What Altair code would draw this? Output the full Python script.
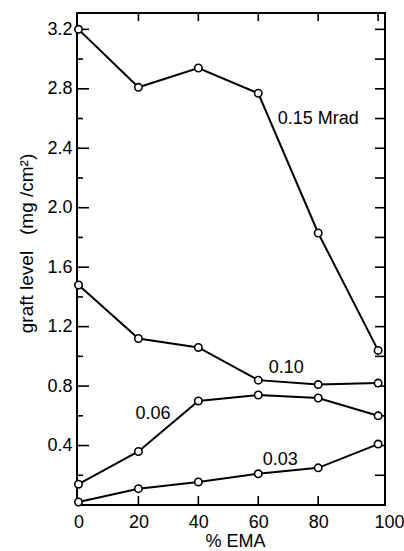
import altair as alt
import pandas as pd

# Graft level vs. EMA content for four radiation doses
ema = [0, 20, 40, 60, 80, 100]
dose_labels = ["0.15", "0.10", "0.06", "0.03"]
graft_015 = [3.20, 2.81, 2.94, 2.77, 1.83, 1.04]
graft_010 = [1.48, 1.12, 1.06, 0.84, 0.81, 0.82]
graft_006 = [0.14, 0.36, 0.70, 0.74, 0.72, 0.60]
graft_003 = [0.02, 0.11, 0.155, 0.21, 0.25, 0.41]

# Curve annotations (anchored in data units)
note_text = ["0.15 Mrad", "0.10", "0.06", "0.03"]
note_x = [66.5, 63.5, 19.0, 61.5]
note_y = [2.60, 0.92, 0.61, 0.30]

# Axis ticks
y_major = [0.4, 0.8, 1.2, 1.6, 2.0, 2.4, 2.8, 3.2]
y_minor = [0.2, 0.6, 1.0, 1.4, 1.8, 2.2, 2.6, 3.0]
y_right = [0.2, 0.4, 0.6, 0.8, 1.0, 1.2, 1.4, 1.6, 1.8, 2.0, 2.2, 2.4, 2.6, 2.8, 3.0, 3.2]
x_bottom = [20, 40, 60, 80]
x_top = [20, 40, 60, 80, 100]
x_labels = [0, 20, 40, 60, 80, 100]

W, H = 308, 492
FONT = "Liberation Sans"

rows = []
for name, vals in zip(dose_labels, [graft_015, graft_010, graft_006, graft_003]):
    for e, v in zip(ema, vals):
        rows.append({"ema": e, "graft": v, "dose": name})
df = pd.DataFrame(rows)
notes = pd.DataFrame({"text": note_text, "x": note_x, "y": note_y})

xs = alt.Scale(domain=[-0.5, 102.3], nice=False, zero=False)
ys = alt.Scale(domain=[0, 3.31], nice=False, zero=False)

x_axis = alt.Axis(
    values=x_labels, ticks=False, domain=False, grid=False,
    labelFont=FONT, labelFontSize=18, labelColor="black", labelPadding=8,
    labelOffset=alt.expr("datum.value == 100 ? 11 : 0"),
    title="% EMA", titleFont=FONT, titleFontSize=18, titleFontWeight="normal",
    titleColor="black", titleX=158, titleY=36, titleBaseline="middle",
)
y_axis = alt.Axis(
    values=y_major, format=".1f", ticks=False, domain=False, grid=False,
    labelFont=FONT, labelFontSize=18, labelColor="black", labelPadding=5,
    title="graft\u00a0level\u00a0\u00a0\u00a0(mg\u00a0/cm²)", titleFont=FONT, titleFontSize=19,
    titleFontWeight="normal", titleColor="black", titleAngle=270,
    titleX=-51, titleY=230, titleAlign="center", titleBaseline="middle",
)


def xenc(field):
    return alt.X(field, scale=xs, axis=x_axis)


def yenc(field):
    return alt.Y(field, scale=ys, axis=y_axis)


lines = alt.Chart(df).mark_line(color="black", strokeWidth=2).encode(
    x=xenc("ema:Q"), y=yenc("graft:Q"), detail="dose:N",
)
points = alt.Chart(df).mark_point(
    shape="circle", size=55, filled=True, fill="white", stroke="black",
    strokeWidth=1.6, opacity=1,
).encode(x=xenc("ema:Q"), y=yenc("graft:Q"))
labels = alt.Chart(notes).mark_text(
    font=FONT, fontSize=18, align="left", baseline="middle", color="black"
).encode(x=xenc("x:Q"), y=yenc("y:Q"), text="text:N")

tick_style = dict(color="black", strokeWidth=1.6)
left_major = alt.Chart(pd.DataFrame({"v": y_major})).mark_rule(**tick_style).encode(
    y=yenc("v:Q"), x=alt.value(0), x2=alt.value(12))
left_minor = alt.Chart(pd.DataFrame({"v": y_minor})).mark_rule(**tick_style).encode(
    y=yenc("v:Q"), x=alt.value(0), x2=alt.value(6))
right_ticks = alt.Chart(pd.DataFrame({"v": y_right})).mark_rule(**tick_style).encode(
    y=yenc("v:Q"), x=alt.value(W), x2=alt.value(W - 10))
bottom_ticks = alt.Chart(pd.DataFrame({"v": x_bottom})).mark_rule(**tick_style).encode(
    x=xenc("v:Q"), y=alt.value(H), y2=alt.value(H - 9))
top_ticks = alt.Chart(pd.DataFrame({"v": x_top})).mark_rule(**tick_style).encode(
    x=xenc("v:Q"), y=alt.value(0), y2=alt.value(8))

chart = alt.layer(
    lines, left_major, left_minor, right_ticks, bottom_ticks, top_ticks, points, labels
).properties(
    width=W, height=H,
    autosize=alt.AutoSizeParams(type="none"),
    padding={"left": 77, "top": 13, "right": 19, "bottom": 46},
    background="white",
).configure_view(stroke="black", strokeWidth=2)

chart.save("out.html", embed_options={"renderer": "svg", "actions": False})
